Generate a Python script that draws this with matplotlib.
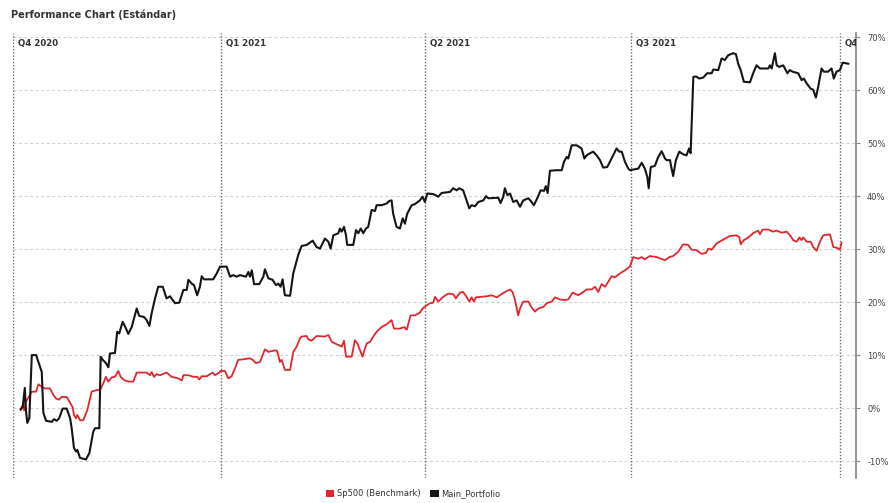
import numpy as np
import pandas as pd
import matplotlib
matplotlib.use("Agg")
import matplotlib.pyplot as plt
from matplotlib.patches import Patch

# Days elapsed since 2020-10-01 and cumulative return (%) for each series
portfolio_days = [3.4, 4.3, 5.2, 5.7, 6.3, 7.2, 8.3, 10.2, 11.9, 12.7, 13.4, 14.6, 17.1, 18.1, 19.3, 20.4,
    21.9, 23.7, 25.2, 25.9, 26.9, 27.8, 28.4, 29.6, 32.2, 33.7, 35.4, 36.2, 38.1, 38.7, 39.6, 41.0,
    42.1, 42.8, 45.0, 46.0, 46.9, 48.4, 49.9, 50.9, 52.4, 54.6, 55.7, 57.8, 59.0, 60.2, 61.2, 62.7,
    64.1, 66.1, 67.8, 69.3, 71.5, 73.4, 75.2, 76.7, 77.4, 78.9, 79.9, 81.3, 82.5, 83.3, 84.3, 88.4,
    89.9, 91.4, 94.3, 95.8, 97.2, 98.7, 100.2, 102.8, 103.9, 104.6, 105.4, 106.4, 108.7, 110.5, 111.2, 112.7,
    114.6, 116.1, 117.1, 118.1, 119.0, 120.0, 122.3, 123.7, 125.9, 127.4, 129.6, 132.3, 134.0, 135.5, 137.7, 139.2,
    140.2, 141.4, 143.6, 144.3, 145.1, 146.1, 147.0, 147.5, 150.2, 151.4, 152.4, 153.5, 154.6, 155.8, 156.8, 158.3,
    159.8, 160.5, 162.7, 164.9, 166.1, 167.1, 167.8, 169.3, 170.8, 172.0, 173.0, 174.0, 176.0, 177.4, 179.6, 180.8,
    181.8, 182.9, 185.5, 187.7, 189.2, 192.9, 194.3, 195.8, 197.0, 198.7, 200.2, 201.4, 202.4, 203.9, 205.4, 207.6,
    208.8, 209.8, 214.2, 215.2, 216.4, 217.1, 218.2, 219.4, 220.8, 222.3, 223.8, 225.2, 227.5, 228.9, 229.9, 231.4,
    232.9, 234.4, 235.2, 236.0, 237.0, 240.0, 242.2, 243.2, 244.4, 245.1, 246.6, 248.8, 251.0, 252.2, 253.2, 254.7,
    256.1, 257.6, 259.1, 260.5, 262.3, 264.2, 266.4, 267.6, 268.7, 270.1, 271.6, 272.3, 276.0, 277.5, 278.9, 280.0,
    280.6, 281.5, 283.3, 284.8, 286.3, 287.8, 288.5, 290.0, 290.7, 291.4, 292.6, 294.1, 295.8, 297.3, 298.4, 299.1,
    300.3, 301.5, 302.9, 304.7, 306.4, 308.4, 309.1, 311.3, 312.8, 314.2, 315.7, 317.9, 319.1, 320.1, 321.2, 322.6,
    325.3, 326.7, 328.2, 329.7, 333.4, 334.1, 334.9, 336.3, 337.1, 338.2, 340.0, 341.8, 342.9, 344.1, 346.6, 348.1,
    349.1, 350.3, 352.1, 353.2, 354.4, 355.4, 356.9, 357.9, 359.8, 361.3, 362.3, 363.5, 365.0, 366.2, 368.7]
portfolio_pct = [-0.2, 0.2, 3.8, -0.4, -2.8, -1.9, 10.0, 10.0, 7.8, 6.8, -0.9, -2.4, -2.6, -2.1, -2.4, -1.9,
    -0.1, -0.1, -1.9, -3.8, -7.5, -8.2, -7.9, -9.4, -9.7, -8.5, -4.5, -3.8, -3.8, 9.7, 9.1, 8.5,
    7.7, 10.3, 10.4, 14.4, 14.1, 16.3, 15.0, 14.0, 15.3, 18.8, 17.4, 17.2, 16.6, 15.5, 17.9, 20.7,
    22.9, 22.9, 20.7, 21.1, 19.8, 19.9, 22.3, 22.3, 24.2, 23.5, 23.2, 21.3, 22.9, 24.9, 24.3, 24.3,
    25.4, 26.7, 26.7, 24.8, 25.1, 24.8, 25.1, 24.8, 25.7, 24.8, 26.0, 23.4, 23.4, 24.8, 26.2, 24.5,
    24.2, 23.2, 23.5, 22.9, 24.3, 21.3, 21.2, 25.4, 28.9, 30.6, 30.8, 31.6, 30.4, 30.1, 32.0, 31.4,
    30.1, 32.6, 33.0, 33.9, 33.3, 34.2, 32.6, 30.8, 30.8, 33.6, 33.0, 33.9, 33.0, 33.9, 34.2, 37.4,
    37.2, 38.3, 38.3, 38.6, 39.1, 39.2, 36.7, 34.2, 33.9, 35.8, 34.8, 36.7, 38.3, 38.5, 39.2, 39.9,
    38.9, 40.5, 40.4, 39.9, 40.6, 40.8, 41.5, 41.1, 41.5, 41.1, 39.2, 37.7, 38.3, 38.1, 38.9, 39.2,
    40.0, 39.6, 39.7, 38.7, 39.9, 41.5, 40.2, 40.5, 38.9, 39.2, 38.0, 39.2, 39.6, 38.9, 38.3, 39.6,
    41.1, 41.0, 41.9, 40.6, 44.8, 44.9, 44.9, 46.5, 47.4, 47.1, 49.6, 49.6, 49.0, 47.1, 47.7, 48.1,
    48.4, 47.7, 46.8, 45.4, 45.5, 47.1, 49.0, 48.4, 48.4, 46.5, 45.2, 44.9, 45.2, 46.3, 45.2, 43.6,
    41.5, 45.5, 45.7, 47.4, 48.5, 47.1, 46.8, 46.8, 45.2, 43.8, 46.8, 48.4, 47.9, 47.7, 49.0, 48.1,
    62.5, 62.6, 62.2, 62.4, 63.2, 63.2, 63.9, 63.8, 66.0, 65.7, 66.6, 67.0, 66.8, 65.0, 63.8, 61.6,
    61.5, 63.2, 64.7, 64.1, 64.1, 64.7, 64.1, 67.0, 64.7, 64.4, 64.7, 63.2, 63.8, 63.5, 63.2, 61.9,
    62.2, 61.3, 60.3, 60.1, 58.6, 60.6, 64.1, 63.5, 63.5, 64.1, 62.2, 63.5, 63.8, 65.2, 65.0]

benchmark_days = [3.4, 4.3, 4.9, 5.7, 7.2, 8.3, 10.2, 11.2, 12.7, 14.1, 16.3, 17.8, 19.0, 20.4, 21.5, 23.7,
    25.2, 26.3, 26.9, 27.8, 28.4, 29.6, 31.0, 32.8, 34.7, 36.9, 38.4, 39.9, 41.0, 42.1, 43.6, 45.0,
    46.5, 47.5, 49.0, 50.9, 53.1, 54.6, 59.0, 60.5, 61.2, 62.2, 63.4, 64.9, 67.8, 70.0, 73.0, 74.5,
    75.2, 77.4, 79.6, 81.3, 82.2, 83.3, 85.5, 88.1, 89.2, 91.1, 91.4, 93.6, 95.0, 96.5, 98.0, 99.4,
    101.6, 104.6, 105.8, 107.2, 109.0, 111.2, 112.7, 114.6, 116.4, 117.1, 117.8, 118.6, 120.0, 122.3, 123.7, 125.2,
    126.7, 127.4, 129.6, 130.3, 131.8, 134.0, 137.7, 139.2, 140.7, 143.6, 145.1, 146.1, 147.0, 149.5, 150.9, 152.0,
    153.2, 154.3, 155.4, 156.1, 157.6, 159.0, 160.5, 162.7, 164.9, 167.1, 168.2, 170.8, 172.6, 173.8, 175.5, 177.4,
    179.6, 180.8, 182.6, 184.1, 185.5, 186.3, 187.7, 189.9, 192.1, 194.3, 195.5, 197.3, 198.7, 200.2, 201.4, 202.4,
    203.5, 204.3, 209.1, 211.3, 213.5, 214.9, 217.1, 219.4, 220.5, 221.6, 223.0, 223.8, 225.2, 227.5, 228.9, 230.4,
    231.9, 234.1, 235.6, 237.8, 239.2, 241.4, 243.6, 245.1, 247.0, 249.5, 251.7, 253.2, 255.4, 256.9, 258.3, 259.8,
    261.3, 262.7, 264.2, 265.7, 267.9, 270.1, 272.3, 273.8, 276.0, 277.5, 278.9, 281.1, 284.1, 287.8, 289.7, 291.4,
    293.6, 295.8, 298.0, 299.5, 301.7, 304.0, 305.9, 306.9, 308.4, 310.6, 313.5, 316.5, 319.4, 320.6, 321.2, 322.6,
    324.5, 326.7, 328.9, 329.7, 330.9, 333.4, 335.3, 337.1, 339.3, 341.5, 343.0, 344.4, 345.9, 347.1, 348.1, 348.8,
    350.3, 352.1, 353.2, 354.7, 356.2, 357.6, 360.6, 361.3, 362.1, 363.3, 364.3, 365.0, 365.7]
benchmark_pct = [-0.4, 0.6, -0.4, 1.2, 2.3, 3.1, 3.1, 4.5, 4.0, 3.7, 3.7, 2.5, 1.8, 1.6, 2.1, 2.1,
    1.0, 0.2, -1.3, -1.9, -1.3, -2.3, -2.3, -0.4, 3.1, 3.4, 3.4, 4.7, 5.9, 5.0, 5.8, 5.9,
    7.0, 5.9, 5.3, 5.0, 5.0, 6.7, 6.7, 6.2, 6.8, 5.9, 6.4, 6.2, 6.7, 5.9, 5.6, 5.2,
    6.2, 6.2, 5.9, 5.9, 5.4, 6.0, 6.0, 6.7, 6.2, 6.7, 7.0, 7.0, 5.6, 6.0, 7.5, 9.1,
    9.2, 9.4, 9.1, 8.5, 8.7, 11.1, 10.6, 10.8, 10.9, 10.0, 8.7, 9.1, 7.2, 7.2, 10.6, 11.6,
    13.2, 13.5, 13.6, 13.0, 12.7, 13.6, 13.5, 13.8, 12.5, 11.9, 11.6, 12.7, 9.7, 9.7, 12.8, 12.2,
    10.9, 9.7, 11.3, 12.2, 12.5, 13.5, 14.4, 15.3, 15.8, 16.6, 15.0, 15.0, 15.3, 14.8, 17.5, 17.5,
    18.0, 18.8, 19.4, 19.8, 19.9, 21.0, 20.1, 21.0, 21.6, 21.5, 20.7, 21.8, 21.9, 21.0, 20.1, 20.9,
    20.1, 20.9, 21.1, 21.3, 20.9, 21.3, 21.9, 22.4, 21.9, 20.4, 17.5, 18.8, 20.1, 20.1, 19.0, 18.2,
    18.8, 19.1, 19.8, 20.1, 20.9, 20.5, 20.4, 20.5, 21.8, 21.3, 21.9, 22.4, 22.4, 22.9, 21.9, 23.4,
    22.9, 23.8, 24.9, 24.7, 25.4, 26.0, 26.7, 28.5, 28.2, 28.5, 28.1, 28.7, 28.5, 27.9, 28.5, 28.7,
    29.5, 30.9, 30.8, 29.9, 29.8, 29.1, 29.3, 30.1, 29.9, 31.1, 31.8, 32.5, 32.6, 32.3, 30.9, 31.7,
    32.2, 33.0, 33.5, 32.8, 33.7, 33.7, 33.3, 33.5, 33.1, 33.3, 32.6, 31.7, 31.4, 32.2, 31.7, 32.2,
    31.4, 31.4, 30.4, 29.7, 31.4, 32.6, 32.8, 31.7, 30.4, 30.3, 30.1, 29.9, 31.2]

quarter_starts = ["2020-10-01", "2021-01-01", "2021-04-01", "2021-07-01", "2021-10-01"]
quarter_labels = ["Q4 2020", "Q1 2021", "Q2 2021", "Q3 2021", "Q4"]
y_ticks = [-10, 0, 10, 20, 30, 40, 50, 60, 70]

series_names = ["Sp500 (Benchmark)", "Main_Portfolio"]
series_colors = ["#e3262d", "#151515"]

origin = pd.Timestamp("2020-10-01")
to_dates = lambda d: origin + pd.to_timedelta(np.asarray(d), unit="D")

fig = plt.figure(figsize=(8.89, 5.03), dpi=100)
ax = fig.add_axes([13 / 889, 1 - 478 / 503, (856 - 13) / 889, (478 - 33) / 503])

ax.plot(to_dates(benchmark_days), benchmark_pct, color=series_colors[0], lw=1.3, zorder=3)
ax.plot(to_dates(portfolio_days), portfolio_pct, color=series_colors[1], lw=1.5, zorder=4)

ax.set_xlim(origin, origin + pd.Timedelta(days=372.1))
ax.set_ylim(-13.2, 70.8)

# horizontal grid
for v in y_ticks:
    ax.axhline(v, color="#cfcfcf", lw=0.8, ls=(0, (2.5, 2.5)), zorder=1)

# quarter separators and labels
for d, lab in zip(quarter_starts, quarter_labels):
    t = pd.Timestamp(d)
    ax.axvline(t, color="#6a6a6a", lw=1.0, ls=(0, (1, 1.3)), zorder=2)
    ax.text(t + pd.Timedelta(days=2), 68.8, lab, fontsize=6.2, color="#333333",
            fontweight="semibold", va="center", ha="left", clip_on=True, zorder=5)

ax.yaxis.tick_right()
ax.set_yticks(y_ticks)
ax.set_yticklabels([f"{v}%" for v in y_ticks])
ax.tick_params(axis="y", direction="out", length=3, width=0.8, color="#888888",
               labelsize=6.0, labelcolor="#444444", pad=5)
ax.set_xticks([])
for side in ["top", "left", "bottom"]:
    ax.spines[side].set_visible(False)
ax.spines["right"].set_color("#8a8a8a")
ax.spines["right"].set_linewidth(1.3)

fig.text(11 / 889, 1 - 15 / 503, "Performance Chart (Estándar)", fontsize=7.0,
         fontweight="bold", color="#333333", va="center", ha="left")

handles = [Patch(facecolor=c, edgecolor="none") for c in series_colors]
fig.legend(handles, series_names, loc="center", bbox_to_anchor=(413 / 889, 1 - 494 / 503),
           ncol=2, frameon=False, fontsize=6, handlelength=1.0, handleheight=1.0,
           handletextpad=0.3, columnspacing=1.2, labelcolor="#333333")

fig.savefig("out.png", dpi=100, facecolor="white")
